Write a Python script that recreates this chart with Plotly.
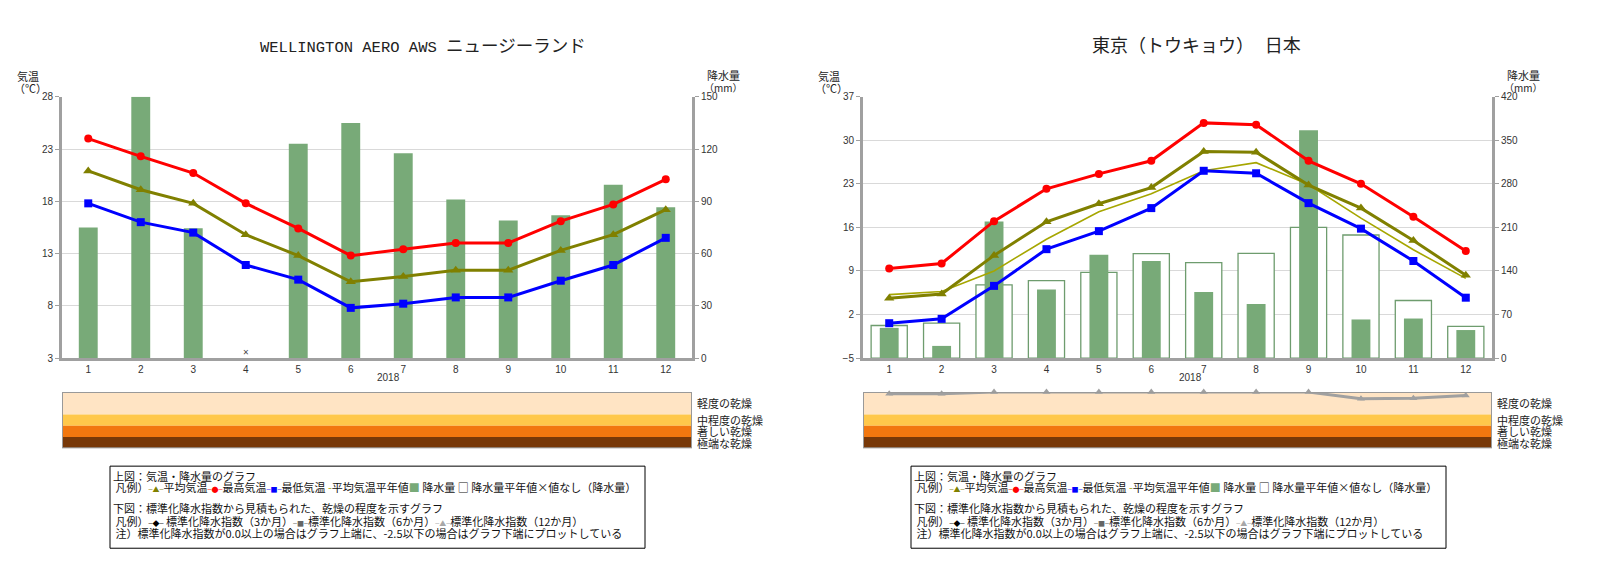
import plotly.graph_objects as go

W, H = 1602, 573
OFF = 8                      # default page body margin
FW, FH = W - 2 * OFF - 6, H - 2 * OFF - 6   # leave slack so the page never scrolls
# measured vertical response of the viewer: shown_y ~ VA + VB * requested_y
VA, VB = 4.5, 0.979

# ---------------- data ----------------
months = [str(i) for i in range(1, 13)]
year_label = "2018"

wel_title_latin = "WELLINGTON AERO AWS"
wel_title_jp = "ニュージーランド"
wel_tmax = [24.0, 22.3, 20.7, 17.8, 15.4, 12.8, 13.4, 14.0, 14.0, 16.1, 17.7, 20.1]
wel_tmean = [20.9, 19.1, 17.8, 14.8, 12.8, 10.3, 10.8, 11.4, 11.4, 13.3, 14.8, 17.2]
wel_tmin = [17.8, 16.0, 15.0, 11.9, 10.5, 7.8, 8.2, 8.8, 8.8, 10.4, 11.9, 14.5]
wel_precip = [75, 150, 74.5, None, 123, 135, 117.5, 91, 79, 82, 99.5, 86.5]
wel_temp_ticks = [3, 8, 13, 18, 23, 28]
wel_rain_ticks = [0, 30, 60, 90, 120, 150]

tok_title = "東京（トウキョウ） 日本"
tok_tmax = [9.4, 10.2, 17.0, 22.2, 24.6, 26.7, 32.8, 32.5, 26.7, 23.0, 17.7, 12.2]
tok_tmean = [4.6, 5.3, 11.5, 16.9, 19.8, 22.4, 28.2, 28.1, 22.8, 19.1, 13.9, 8.3]
tok_tnorm = [5.2, 5.7, 9.0, 14.1, 18.5, 21.4, 25.1, 26.4, 22.9, 17.5, 12.4, 7.8]
tok_tmin = [0.6, 1.3, 6.6, 12.5, 15.4, 19.1, 25.1, 24.7, 19.9, 15.8, 10.6, 4.7]
tok_precip = [48.5, 19.5, 219.5, 110, 166, 156, 106, 87, 366, 62, 63.5, 45]
tok_pnorm = [52.3, 56.1, 117.5, 124.5, 137.8, 167.7, 153.5, 168.2, 209.9, 197.8, 92.5, 51.0]
tok_spi12 = [-0.08, -0.08, 0, 0, 0, 0, 0, 0, 0, -0.3, -0.28, -0.15]
tok_temp_ticks = [-5, 2, 9, 16, 23, 30, 37]
tok_rain_ticks = [0, 70, 140, 210, 280, 350, 420]

band_edges = [0, -1.0, -1.5, -2.0, -2.5]
band_colors = ["#FFE4C4", "#FFC84B", "#F2770F", "#783808"]
band_labels = ["軽度の乾燥", "中程度の乾燥", "著しい乾燥", "極端な乾燥"]

legend_line1 = "上図：気温・降水量のグラフ"
legend_line3 = "下図：標準化降水指数から見積もられた、乾燥の程度を示すグラフ"
legend_line5 = " 注）標準化降水指数が0.0以上の場合はグラフ上端に、-2.5以下の場合はグラフ下端にプロットしている"

# ---------------- styling ----------------
JP = "Noto Sans CJK JP"
TICKF = dict(family="Liberation Sans, Arial, sans-serif", size=10, color="#333333")
AXC = "#A0A0A0"
GREEN = "#78AA78"
idx = list(range(len(months)))


def px(x):
    return (x - OFF) / FW


def py(y):
    yd = (y - VA) / VB
    return 1 - (yd - OFF) / FH


def ref(p, i):
    return p if i == 1 else f"{p}{i}"


def key(p, i):
    return f"{p}axis" if i == 1 else f"{p}axis{i}"


fig = go.Figure()
annotations = []
shapes = []
layout_axes = {}


def icon(color, sym):
    return (f'<span style="color:{color};font-size:4px">━</span>'
            f'<span style="color:{color};font-size:7px">{sym}</span>'
            f'<span style="color:{color};font-size:4px">━</span>')


def add_chart(k, x0, x1, title, title_font, title_cx, tmax, tmean, tmin, tnorm, precip, pnorm,
              temp_ticks, rain_ticks, spi, year_cx):
    n = 3 * k
    XA, XB, XC = n + 1, n + 2, n + 3
    YP, YT, YC = n + 1, n + 2, n + 3
    dom_x = [px(x0), px(x1)]
    dom_y = [py(357), py(96)]
    dom_band = [py(447), py(391)]

    if pnorm is not None:
        fig.add_trace(go.Bar(x=idx, y=pnorm, width=0.69,
                             marker=dict(color="white", line=dict(color="#6E9C6E", width=1.3)),
                             xaxis=ref("x", XA), yaxis=ref("y", YP), showlegend=False))
    fig.add_trace(go.Bar(x=idx, y=precip, width=0.36,
                         marker=dict(color=GREEN, line=dict(width=0)),
                         xaxis=ref("x", XA), yaxis=ref("y", YP), showlegend=False))
    if tnorm is not None:
        fig.add_trace(go.Scatter(x=idx, y=tnorm, mode="lines",
                                 line=dict(color="#A6A600", width=1.6),
                                 xaxis=ref("x", XA), yaxis=ref("y", YT), showlegend=False))
    fig.add_trace(go.Scatter(x=idx, y=tmean, mode="lines+markers",
                             line=dict(color="#808000", width=3),
                             marker=dict(symbol="triangle-up", size=9, color="#808000"),
                             xaxis=ref("x", XA), yaxis=ref("y", YT), showlegend=False, cliponaxis=False))
    fig.add_trace(go.Scatter(x=idx, y=tmax, mode="lines+markers",
                             line=dict(color="#FF0000", width=3),
                             marker=dict(symbol="circle", size=8, color="#FF0000"),
                             xaxis=ref("x", XA), yaxis=ref("y", YT), showlegend=False, cliponaxis=False))
    fig.add_trace(go.Scatter(x=idx, y=tmin, mode="lines+markers",
                             line=dict(color="#0000FF", width=3),
                             marker=dict(symbol="square", size=8, color="#0000FF"),
                             xaxis=ref("x", XA), yaxis=ref("y", YT), showlegend=False, cliponaxis=False))
    miss = [i for i, v in zip(idx, precip) if v is None]
    if miss:
        fig.add_trace(go.Scatter(x=miss, y=[temp_ticks[0] + (temp_ticks[-1] - temp_ticks[0]) * 0.016] * len(miss),
                                 mode="text", text=["×"] * len(miss),
                                 textfont=dict(size=10, color="#444444"),
                                 xaxis=ref("x", XA), yaxis=ref("y", YT), showlegend=False, cliponaxis=False))
    if spi is not None:
        fig.add_trace(go.Scatter(x=idx, y=spi, mode="lines+markers",
                                 line=dict(color="#A0A0A0", width=3),
                                 marker=dict(symbol="triangle-up", size=7, color="#A0A0A0"),
                                 xaxis=ref("x", XC), yaxis=ref("y", YC), showlegend=False, cliponaxis=False))

    xr = [-0.5, len(months) - 0.5]
    layout_axes[key("x", XA)] = dict(domain=dom_x, range=xr, anchor=ref("y", YP), tickvals=idx,
                                     ticktext=months, ticks="", showline=True, linecolor=AXC,
                                     linewidth=3, showgrid=False, zeroline=False, tickfont=TICKF)
    layout_axes[key("x", XB)] = dict(overlaying=ref("x", XA), anchor=ref("y", YP), range=xr,
                                     tickvals=[i + 0.5 for i in idx[:-1]], ticks="outside",
                                     ticklen=12, tickwidth=1, tickcolor=AXC, showticklabels=False,
                                     showgrid=False, showline=False, zeroline=False, side="bottom")
    layout_axes[key("x", XC)] = dict(domain=dom_x, range=xr, anchor=ref("y", YC), visible=False)
    layout_axes[key("y", YP)] = dict(domain=dom_y, range=[rain_ticks[0], rain_ticks[-1]],
                                     tickvals=rain_ticks, side="right", anchor=ref("x", XA),
                                     showgrid=True, gridcolor="#D9D9D9", gridwidth=1,
                                     showline=True, linecolor=AXC, linewidth=3, ticks="outside",
                                     ticklen=4, tickcolor=AXC, zeroline=False, tickfont=TICKF)
    layout_axes[key("y", YT)] = dict(overlaying=ref("y", YP), side="left", anchor=ref("x", XA),
                                     range=[temp_ticks[0], temp_ticks[-1]], tickvals=temp_ticks,
                                     showgrid=False, showline=True, linecolor=AXC, linewidth=3,
                                     ticks="outside", ticklen=4, tickcolor=AXC, zeroline=False,
                                     tickfont=TICKF)
    layout_axes[key("y", YC)] = dict(domain=dom_band, range=[band_edges[-1], band_edges[0]],
                                     anchor=ref("x", XC), visible=False)

    # drought bands
    for j, c in enumerate(band_colors):
        shapes.append(dict(type="rect", xref=ref("x", XC), yref=ref("y", YC), x0=xr[0], x1=xr[1],
                           y0=band_edges[j], y1=band_edges[j + 1], fillcolor=c,
                           line=dict(width=0), layer="below"))
        annotations.append(dict(text=band_labels[j], xref="paper", yref=ref("y", YC),
                                x=px(x1 + 3), y=(band_edges[j] + band_edges[j + 1]) / 2,
                                xanchor="left", yanchor="middle", showarrow=False,
                                font=dict(family=JP, size=11, color="#222222")))
    shapes.append(dict(type="rect", xref=ref("x", XC), yref=ref("y", YC), x0=xr[0], x1=xr[1],
                       y0=band_edges[-1], y1=band_edges[0], line=dict(color="#999999", width=2),
                       fillcolor="rgba(0,0,0,0)", layer="above"))

    # titles
    annotations.append(dict(text=title, x=px(title_cx), y=py(46), xref="paper", yref="paper",
                            xanchor="center", yanchor="middle", showarrow=False,
                            font=dict(family="Liberation Mono, DejaVu Sans Mono, " + JP,
                                      size=title_font, color="#222222")))
    annotations.append(dict(text="気温", x=px(x0 - 47), y=py(75), xref="paper", yref="paper",
                            xanchor="left", yanchor="middle", showarrow=False,
                            font=dict(family=JP, size=11, color="#222222")))
    annotations.append(dict(text="（℃）", x=px(x0 - 50), y=py(87), xref="paper", yref="paper",
                            xanchor="left", yanchor="middle", showarrow=False,
                            font=dict(family=JP, size=11, color="#222222")))
    annotations.append(dict(text="降水量", x=px(x1 + 13), y=py(74), xref="paper", yref="paper",
                            xanchor="left", yanchor="middle", showarrow=False,
                            font=dict(family=JP, size=11, color="#222222")))
    annotations.append(dict(text="（mm）", x=px(x1 + 10), y=py(87), xref="paper", yref="paper",
                            xanchor="left", yanchor="middle", showarrow=False,
                            font=dict(family=JP, size=10, color="#222222")))
    annotations.append(dict(text=year_label, x=px(year_cx), y=py(376), xref="paper", yref="paper",
                            xanchor="center", yanchor="middle", showarrow=False,
                            font=dict(family="Liberation Sans, Arial", size=10, color="#333333")))

    # legend box
    bx0, bx1, by0, by1 = x0 + 48, x0 + 583, 465, 547
    shapes.append(dict(type="rect", xref="paper", yref="paper", x0=px(bx0), x1=px(bx1),
                       y0=py(by1), y1=py(by0), line=dict(color="#000000", width=1),
                       fillcolor="white"))
    line2 = (" 凡例）" + icon("#808000", "▲") + "平均気温" + icon("#FF0000", "●") + "最高気温"
             + icon("#0000FF", "■") + "最低気温 "
             + '<span style="color:#A6A600">-</span>平均気温平年値'
             + f'<span style="color:{GREEN}">■</span> 降水量 □ 降水量平年値×値なし（降水量）')
    line4 = (" 凡例）" + icon("#000000", "◆") + " 標準化降水指数（3か月）" + icon("#666666", "■")
             + "標準化降水指数（6か月）" + icon("#A8A8A8", "▲") + "標準化降水指数（12か月）")
    for txt, yy in [(legend_line1, 475), (line2, 486), (legend_line3, 507), (line4, 520),
                    (legend_line5, 532)]:
        annotations.append(dict(text=txt, x=px(bx0 + 1), y=py(yy), xref="paper", yref="paper",
                                xanchor="left", yanchor="middle", showarrow=False,
                                font=dict(family=JP, size=11, color="#111111")))


wel_title = wel_title_latin + ' <span style="font-size:17.5px">' + wel_title_jp + "</span>"
add_chart(0, 62, 692, wel_title, 15.5, 423, wel_tmax, wel_tmean, wel_tmin, None, wel_precip, None,
          wel_temp_ticks, wel_rain_ticks, None, 388)
add_chart(1, 863, 1492, tok_title, 18, 1196, tok_tmax, tok_tmean, tok_tmin, tok_tnorm, tok_precip,
          tok_pnorm, tok_temp_ticks, tok_rain_ticks, tok_spi12, 1190)

fig.update_layout(width=FW, height=FH, autosize=False, margin=dict(l=0, r=0, t=0, b=0),
                  paper_bgcolor="white", plot_bgcolor="white", barmode="overlay",
                  showlegend=False, annotations=annotations, shapes=shapes, **layout_axes)

fig.write_html("out.html")
